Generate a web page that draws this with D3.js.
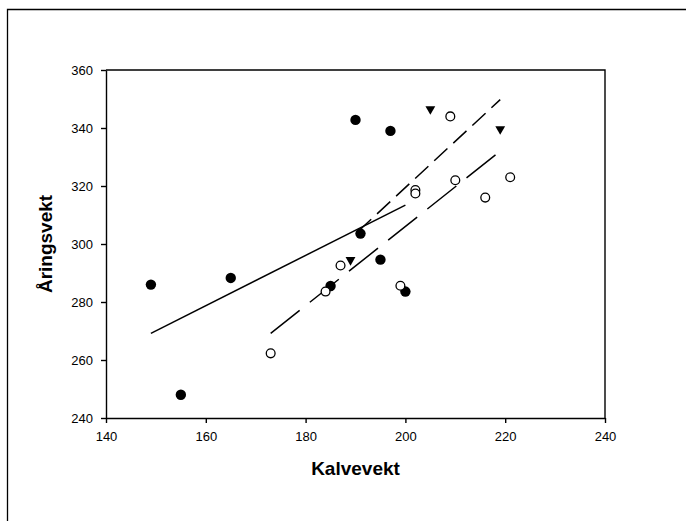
<!DOCTYPE html>
<html>
<head>
<meta charset="utf-8">
<script src="https://d3js.org/d3.v7.min.js"></script>
<style>
  body { margin: 0; background: #fff; }
  svg text { font-family: "Liberation Sans", Arial, sans-serif; fill: #000; }
  .axis path, .axis line { stroke: #000; stroke-width: 1.4px; }
  .axis text { font-size: 13px; }
  .title { font-size: 19px; font-weight: bold; }
</style>
</head>
<body>
<div id="chart"></div>
<script>
// closed circles
var filledX = [149, 155, 165, 190, 191, 197, 185, 195, 200];
var filledY = [286, 248, 288.3, 342.8, 303.6, 339, 285.5, 294.6, 283.6];
// open circles
var openX = [173, 184, 187, 199, 202, 202, 209, 210, 216, 221];
var openY = [262.3, 283.6, 292.6, 285.6, 318.6, 317.4, 344, 322, 316, 323];
// triangles
var triX = [189, 205, 219];
var triY = [294.5, 346.5, 339.6];

// fitted lines (end points)
var solidX = [149, 200], solidY = [269.2, 313.4];
var upperX = [190.5, 219], upperY = [304.3, 349.8];
var lowerX = [173, 219], lowerY = [269.2, 332];

var xTicks = [140, 160, 180, 200, 220, 240];
var yTicks = [240, 260, 280, 300, 320, 340, 360];

var W = 686, H = 521;
var margin = {top: 70, right: 81, bottom: 103, left: 106},
    width = W - margin.left - margin.right,
    height = H - margin.top - margin.bottom;

var root = d3.select("#chart").append("svg")
    .attr("width", W)
    .attr("height", H);

// outer frame (only left and top edges show)
root.append("path")
    .attr("d", "M7.5," + H + "V9.5H" + W)
    .attr("fill", "none")
    .attr("stroke", "#000")
    .attr("stroke-width", 1.3);

var svg = root.append("g")
    .attr("transform", "translate(" + margin.left + "," + margin.top + ")");

var x = d3.scaleLinear().domain([140, 240]).range([0, width]);
var y = d3.scaleLinear().domain([240, 360]).range([height, 0]);

// box top and right
svg.append("path")
    .attr("d", "M0,0H" + width + "V" + height)
    .attr("fill", "none")
    .attr("stroke", "#000")
    .attr("stroke-width", 1.4);

svg.append("g")
    .attr("class", "axis")
    .attr("transform", "translate(0," + height + ")")
    .call(d3.axisBottom(x).tickValues(xTicks).tickSize(5).tickPadding(9).tickSizeOuter(0));

svg.append("g")
    .attr("class", "axis")
    .call(d3.axisLeft(y).tickValues(yTicks).tickSize(5).tickPadding(8).tickSizeOuter(0));

// axis titles
svg.append("text")
    .attr("class", "title")
    .attr("x", width / 2)
    .attr("y", height + 57)
    .attr("text-anchor", "middle")
    .text("Kalvevekt");

svg.append("text")
    .attr("class", "title")
    .attr("transform", "translate(" + (52 - margin.left) + "," + (height / 2) + ") rotate(-90)")
    .attr("text-anchor", "middle")
    .text("Åringsvekt");

// regression lines
var line = d3.line().x(function(d) { return x(d[0]); }).y(function(d) { return y(d[1]); });
function drawLine(xs, ys, dash) {
  svg.append("path")
    .attr("d", line(d3.zip(xs, ys)))
    .attr("fill", "none")
    .attr("stroke", "#000")
    .attr("stroke-width", 1.5)
    .attr("stroke-dasharray", dash);
}
drawLine(solidX, solidY, null);
drawLine(upperX, upperY, "18,8");
drawLine(lowerX, lowerY, "37,13");

// points
svg.selectAll(".filled")
  .data(d3.zip(filledX, filledY))
  .enter().append("circle")
    .attr("cx", function(d) { return x(d[0]); })
    .attr("cy", function(d) { return y(d[1]); })
    .attr("r", 5.2)
    .attr("fill", "#000");

svg.selectAll(".open")
  .data(d3.zip(openX, openY))
  .enter().append("circle")
    .attr("cx", function(d) { return x(d[0]); })
    .attr("cy", function(d) { return y(d[1]); })
    .attr("r", 4.4)
    .attr("fill", "#fff")
    .attr("stroke", "#000")
    .attr("stroke-width", 1.3);

svg.selectAll(".tri")
  .data(d3.zip(triX, triY))
  .enter().append("path")
    .attr("d", d3.symbol().type(d3.symbolTriangle).size(42))
    .attr("transform", function(d) { return "translate(" + x(d[0]) + "," + y(d[1]) + ") rotate(180)"; })
    .attr("fill", "#000");
</script>
</body>
</html>
